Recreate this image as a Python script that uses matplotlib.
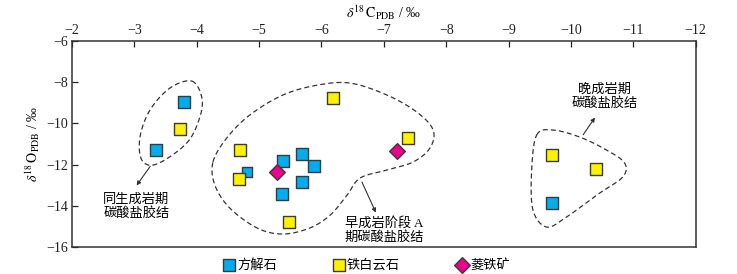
import numpy as np
import matplotlib
matplotlib.use("Agg")
import matplotlib.pyplot as plt

plt.rcParams['font.family'] = ['Liberation Serif', 'Noto Sans CJK SC']
plt.rcParams['mathtext.fontset'] = 'stix'
plt.rcParams['axes.unicode_minus'] = True

# data
calcite_c = [-3.35, -3.79, -5.38, -5.69, -5.88, -5.69, -5.37, -9.69]
calcite_o = [-11.29, -8.96, -11.83, -11.48, -12.06, -12.84, -13.43, -13.86]
calcite_small_c = [-4.80]
calcite_small_o = [-12.36]
ankerite_c = [-3.73, -4.70, -4.67, -6.18, -5.48, -7.38, -9.69, -10.40]
ankerite_o = [-10.27, -11.29, -12.70, -8.77, -14.79, -10.71, -11.53, -12.21]
siderite_c = [-5.29, -7.21]
siderite_o = [-12.36, -11.33]

# dashed outlines (carbon, oxygen)
zone1 = [(-3.92, -7.94), (-4.08, -8.72), (-4.05, -9.69), (-3.84, -10.95), (-3.36, -11.97),
         (-3.12, -11.78), (-3.09, -10.66), (-3.25, -9.35), (-3.57, -8.28)]
zone2 = [(-4.26, -11.87), (-4.48, -10.71), (-4.85, -9.59), (-5.38, -8.62), (-5.93, -8.14),
         (-6.46, -8.04), (-7.05, -8.62), (-7.53, -9.45), (-7.79, -10.32), (-7.74, -11.19),
         (-7.47, -11.87), (-7.05, -12.26), (-6.62, -12.65), (-6.41, -13.48), (-6.14, -14.45),
         (-5.81, -15.08), (-5.38, -15.37), (-4.97, -15.08), (-4.53, -14.11), (-4.29, -12.99)]
zone3 = [(-9.45, -10.56), (-9.71, -10.32), (-10.14, -10.66), (-10.57, -11.29), (-10.86, -11.92),
         (-10.83, -12.60), (-10.46, -13.38), (-9.93, -14.54), (-9.61, -15.03), (-9.39, -14.20),
         (-9.37, -12.26)]


def closed_spline(pts, n=30):
    p = np.array(pts)
    m = len(p)
    out = []
    for i in range(m):
        p0, p1, p2, p3 = p[(i - 1) % m], p[i], p[(i + 1) % m], p[(i + 2) % m]
        t = np.linspace(0, 1, n, endpoint=False)[:, None]
        seg = 0.5 * ((2 * p1) + (-p0 + p2) * t + (2 * p0 - 5 * p1 + 4 * p2 - p3) * t ** 2
                     + (-p0 + 3 * p1 - 3 * p2 + p3) * t ** 3)
        out.append(seg)
    out.append(p[None, 0])
    return np.vstack(out)


fig = plt.figure(figsize=(7.37, 2.74), dpi=100)
ax = fig.add_axes([0.0977, 0.0985, 0.8463, 0.7515])

for z in (zone1, zone2, zone3):
    c = closed_spline(z)
    ax.plot(c[:, 0], c[:, 1], ls=(0, (4, 2.5)), color='#333333', lw=0.9)

edge = '#3a3a3a'
ax.scatter(calcite_c, calcite_o, marker='s', s=80, c='#00AEEF', edgecolors=edge, linewidths=1.0,
           zorder=3, label='方解石')
ax.scatter(calcite_small_c, calcite_small_o, marker='s', s=42, c='#00AEEF', edgecolors=edge,
           linewidths=1.0, zorder=3)
ax.scatter(ankerite_c, ankerite_o, marker='s', s=80, c='#FFF200', edgecolors=edge, linewidths=1.0,
           zorder=4, label='铁白云石')
ax.scatter(siderite_c, siderite_o, marker='D', s=64, c='#EC008C', edgecolors=edge, linewidths=1.0,
           zorder=5, label='菱铁矿')

arrow = dict(arrowstyle='-|>', color='#333333', lw=0.8, mutation_scale=6)
tkw = dict(ha='center', va='top', fontsize=9.5, linespacing=1.1)

ax.text(-3.03, -13.4, '同生成岩期\n碳酸盐胶结', **tkw)
ax.annotate('', xy=(-3.01, -13.12), xytext=(-3.28, -11.97), arrowprops=arrow)
ax.text(-7.0, -14.55, '早成岩阶段 A\n期碳酸盐胶结', **tkw)
ax.annotate('', xy=(-6.89, -14.45), xytext=(-6.63, -12.72), arrowprops=arrow)
ax.text(-10.54, -8.05, '晚成岩期\n碳酸盐胶结', **tkw)
ax.annotate('', xy=(-10.41, -9.6), xytext=(-10.17, -10.66), arrowprops=arrow)

ax.set_xlim(-2, -12)
ax.set_ylim(-16, -6)
ax.set_xticks(np.arange(-2, -13, -1))
ax.set_yticks(np.arange(-6, -17, -2))
ax.xaxis.tick_top()
ax.xaxis.set_label_position('top')
ax.tick_params(direction='in', length=4, width=0.9, labelsize=10, colors='#222222', pad=3)
for s in ax.spines.values():
    s.set_linewidth(1.1)
    s.set_color('#333333')

ax.set_xlabel(r'$\delta^{18}\,\mathrm{C}_{\mathrm{PDB}}$ / ‰', fontsize=10, labelpad=4)
ax.set_ylabel(r'$\delta^{18}\,\mathrm{O}_{\mathrm{PDB}}$ / ‰', fontsize=10, labelpad=3)

fig.legend(loc='lower center', bbox_to_anchor=(0.497, -0.035), ncol=3, frameon=False,
           fontsize=9.5, handletextpad=0.1, columnspacing=4.2, markerscale=1.0,
           handlelength=1.0)

fig.savefig('out.png', dpi=100)
